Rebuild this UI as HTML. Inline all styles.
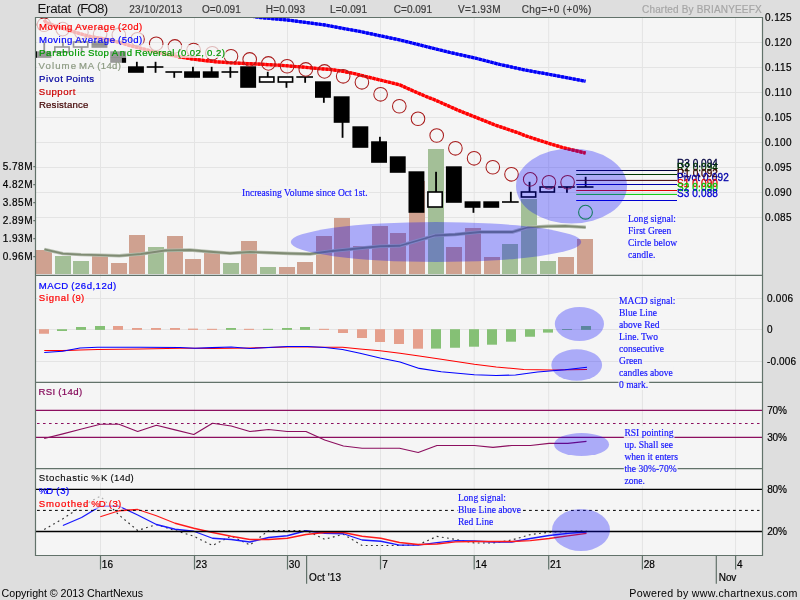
<!DOCTYPE html>
<html lang="en"><head><meta charset="utf-8"><title>Eratat (FO8) chart</title>
<style>html,body{margin:0;padding:0;background:#dedede;overflow:hidden}svg text{white-space:pre}</style></head>
<body>
<svg width="800" height="600" viewBox="0 0 800 600" style="display:block">
<rect width="800" height="600" fill="#dedede"/>
<filter id="gs" x="0" y="0" width="100%" height="100%" filterUnits="userSpaceOnUse" color-interpolation-filters="sRGB"><feOffset dx="0" dy="0"/></filter><g filter="url(#gs)">
<rect x="35.5" y="17.5" width="727.0" height="538.0" fill="#f5f5f5"/>
<defs><clipPath id="cm"><rect x="36" y="18" width="726.5" height="257"/></clipPath>
<clipPath id="inleg"><path d="M37 18.9h106.2v13h-106.2z M37 31.9h106.2v13h-106.2z M37 44.9h189.0v13h-189.0z M37 57.9h84.9v13h-84.9z M37 70.9h58.0v13h-58.0z M37 83.9h39.3v13h-39.3z M37 96.9h52.4v13h-52.4z M37 277.7h80.3v13h-80.3z M37 290.2h48.3v13h-48.3z M37 384.4h46.3v13h-46.3z M37 470.2h97.8v13h-97.8z M37 482.9h33.3v13h-33.3z M37 495.9h85.3v13h-85.3z"/></clipPath>
<clipPath id="outleg"><path clip-rule="evenodd" d="M36 18H762.5V555H36Z M37 18.9h106.2v13h-106.2z M37 31.9h106.2v13h-106.2z M37 44.9h189.0v13h-189.0z M37 57.9h84.9v13h-84.9z M37 70.9h58.0v13h-58.0z M37 83.9h39.3v13h-39.3z M37 96.9h52.4v13h-52.4z M37 277.7h80.3v13h-80.3z M37 290.2h48.3v13h-48.3z M37 384.4h46.3v13h-46.3z M37 470.2h97.8v13h-97.8z M37 482.9h33.3v13h-33.3z M37 495.9h85.3v13h-85.3z"/></clipPath></defs>
<path d="M100.5 17.5V555.5 M194.5 17.5V555.5 M287.5 17.5V555.5 M380.5 17.5V555.5 M474.2 17.5V555.5 M548.7 17.5V555.5 M642.4 17.5V555.5 M735.6 17.5V555.5 M35.5 42.5H762.5 M35.5 67.5H762.5 M35.5 92.5H762.5 M35.5 117.5H762.5 M35.5 142.5H762.5 M35.5 167.5H762.5 M35.5 192.5H762.5 M35.5 217.5H762.5 M35.5 298.5H762.5 M35.5 329.5H762.5 M35.5 361.5H762.5" stroke="#e4e4e4" stroke-width="1" fill="none"/>
<rect x="36" y="250" width="16" height="24" fill="#cfa190"/>
<rect x="55" y="256" width="16" height="18" fill="#a3bf97"/>
<rect x="73" y="261" width="16" height="13" fill="#a3bf97"/>
<rect x="92" y="256" width="16" height="18" fill="#cfa190"/>
<rect x="111" y="263" width="16" height="11" fill="#cfa190"/>
<rect x="129" y="235" width="16" height="39" fill="#cfa190"/>
<rect x="148" y="247" width="16" height="27" fill="#a3bf97"/>
<rect x="167" y="236" width="16" height="38" fill="#cfa190"/>
<rect x="185" y="259" width="16" height="15" fill="#cfa190"/>
<rect x="204" y="252" width="16" height="22" fill="#cfa190"/>
<rect x="223" y="263" width="16" height="11" fill="#a3bf97"/>
<rect x="241" y="241" width="16" height="33" fill="#cfa190"/>
<rect x="260" y="267" width="16" height="7" fill="#a3bf97"/>
<rect x="279" y="267" width="16" height="7" fill="#cfa190"/>
<rect x="297" y="262" width="16" height="12" fill="#cfa190"/>
<rect x="316" y="236" width="16" height="38" fill="#cfa190"/>
<rect x="334" y="218" width="16" height="56" fill="#cfa190"/>
<rect x="353" y="246" width="16" height="28" fill="#cfa190"/>
<rect x="372" y="226" width="16" height="48" fill="#cfa190"/>
<rect x="390" y="233" width="16" height="41" fill="#cfa190"/>
<rect x="409" y="181" width="16" height="93" fill="#cfa190"/>
<rect x="428" y="149" width="16" height="125" fill="#a3bf97"/>
<rect x="446" y="247" width="16" height="27" fill="#cfa190"/>
<rect x="465" y="228" width="16" height="46" fill="#cfa190"/>
<rect x="484" y="257" width="16" height="17" fill="#cfa190"/>
<rect x="502" y="244" width="16" height="30" fill="#a3bf97"/>
<rect x="521" y="199" width="16" height="75" fill="#a3bf97"/>
<rect x="540" y="261" width="16" height="13" fill="#a3bf97"/>
<rect x="558" y="257" width="16" height="17" fill="#cfa190"/>
<rect x="577" y="239" width="16" height="35" fill="#cfa190"/>
<path d="M44.4 249.3 L62.9 253.6 L81 254.6 L99.7 255.1 L119.2 255.8 L140.9 254 L165 250.5 L190 250 L210 251.75 L230 253.25 L250 252 L270 252.75 L290 253.5 L310 254 L330 251.25 L355 248.75 L380 246.25 L400 245.75 L418 240.5 L435 235.5 L455 234.5 L480 232 L512.5 232 L527.5 227.5 L548 226.3 L565 226 L585.7 227.3"  stroke="#b7bfb0" stroke-width="3.4" fill="none" stroke-linejoin="round"/>
<path d="M44.4 249.3 L62.9 253.6 L81 254.6 L99.7 255.1 L119.2 255.8 L140.9 254 L165 250.5 L190 250 L210 251.75 L230 253.25 L250 252 L270 252.75 L290 253.5 L310 254 L330 251.25 L355 248.75 L380 246.25 L400 245.75 L418 240.5 L435 235.5 L455 234.5 L480 232 L512.5 232 L527.5 227.5 L548 226.3 L565 226 L585.7 227.3" stroke="#7f8b73" stroke-width="1.8" fill="none" stroke-linejoin="round"/>
<rect x="43.35" y="41.8" width="1.8" height="10.2" fill="#000"/>
<rect x="35.4" y="51.3" width="15.9" height="6.5" fill="#000"/>
<rect x="62.05" y="41.8" width="1.8" height="5.2" fill="#000"/>
<rect x="54.8" y="47.0" width="14.3" height="5.0" fill="#fff" stroke="#000" stroke-width="1.6"/>
<rect x="80.75" y="47.0" width="1.8" height="5.8" fill="#000"/>
<rect x="73.5" y="42.0" width="14.3" height="5.0" fill="#fff" stroke="#000" stroke-width="1.6"/>
<rect x="91.5" y="41.3" width="15.9" height="6.5" fill="#000"/>
<rect x="110.2" y="51.3" width="15.9" height="11.5" fill="#000"/>
<rect x="135.95" y="61.8" width="1.8" height="5.2" fill="#000"/>
<rect x="128.0" y="66.3" width="15.9" height="6.5" fill="#000"/>
<rect x="154.65" y="61.8" width="1.8" height="5.2" fill="#000"/>
<rect x="154.65" y="67.0" width="1.8" height="5.8" fill="#000"/>
<rect x="146.7" y="66.2" width="16.7" height="1.6" fill="#000"/>
<rect x="173.35" y="72.0" width="1.8" height="5.8" fill="#000"/>
<rect x="165.4" y="71.2" width="16.7" height="1.6" fill="#000"/>
<rect x="192.05" y="66.8" width="1.8" height="5.2" fill="#000"/>
<rect x="184.1" y="71.3" width="15.9" height="6.5" fill="#000"/>
<rect x="210.75" y="66.8" width="1.8" height="5.2" fill="#000"/>
<rect x="202.8" y="71.3" width="15.9" height="6.5" fill="#000"/>
<rect x="229.45" y="66.8" width="1.8" height="5.2" fill="#000"/>
<rect x="229.45" y="72.0" width="1.8" height="5.8" fill="#000"/>
<rect x="221.5" y="71.2" width="16.7" height="1.6" fill="#000"/>
<rect x="240.2" y="66.3" width="15.9" height="21.5" fill="#000"/>
<rect x="266.85" y="71.8" width="1.8" height="5.2" fill="#000"/>
<rect x="259.6" y="77.0" width="14.3" height="5.0" fill="#fff" stroke="#000" stroke-width="1.6"/>
<rect x="285.55" y="82.0" width="1.8" height="5.8" fill="#000"/>
<rect x="278.3" y="77.0" width="14.3" height="5.0" fill="#fff" stroke="#000" stroke-width="1.6"/>
<rect x="304.25" y="77.0" width="1.8" height="5.8" fill="#000"/>
<rect x="296.3" y="76.2" width="16.7" height="1.6" fill="#000"/>
<rect x="322.95" y="97.0" width="1.8" height="5.8" fill="#000"/>
<rect x="315.0" y="81.3" width="15.9" height="16.5" fill="#000"/>
<rect x="341.65" y="122.0" width="1.8" height="15.8" fill="#000"/>
<rect x="333.7" y="96.3" width="15.9" height="26.5" fill="#000"/>
<rect x="352.4" y="126.3" width="15.9" height="21.5" fill="#000"/>
<rect x="379.05" y="136.8" width="1.8" height="5.2" fill="#000"/>
<rect x="371.1" y="141.3" width="15.9" height="21.5" fill="#000"/>
<rect x="389.8" y="156.3" width="15.9" height="16.5" fill="#000"/>
<rect x="408.5" y="171.3" width="15.9" height="41.5" fill="#000"/>
<rect x="435.15" y="171.8" width="1.8" height="20.2" fill="#000"/>
<rect x="427.9" y="192.0" width="14.3" height="15.0" fill="#fff" stroke="#000" stroke-width="1.6"/>
<rect x="445.9" y="166.3" width="15.9" height="36.5" fill="#000"/>
<rect x="472.55" y="207.0" width="1.8" height="5.8" fill="#000"/>
<rect x="464.6" y="201.3" width="15.9" height="6.5" fill="#000"/>
<rect x="483.3" y="201.3" width="15.9" height="6.5" fill="#000"/>
<rect x="509.95" y="191.8" width="1.8" height="10.2" fill="#000"/>
<rect x="502.0" y="201.2" width="16.7" height="1.6" fill="#000"/>
<rect x="528.65" y="181.8" width="1.8" height="10.2" fill="#000"/>
<rect x="521.4" y="192.0" width="14.3" height="5.0" fill="#fff" stroke="#000" stroke-width="1.6"/>
<rect x="540.1" y="187.0" width="14.3" height="5.0" fill="#fff" stroke="#000" stroke-width="1.6"/>
<rect x="566.05" y="187.0" width="1.8" height="5.8" fill="#000"/>
<rect x="558.1" y="186.2" width="16.7" height="1.6" fill="#000"/>
<rect x="584.75" y="176.8" width="1.8" height="10.2" fill="#000"/>
<rect x="576.8" y="186.2" width="16.7" height="1.6" fill="#000"/>
<rect x="37" y="18.9" width="106.2" height="13" fill="#f5f5f5" fill-opacity="0.62"/>
<rect x="37" y="31.9" width="106.2" height="13" fill="#f5f5f5" fill-opacity="0.62"/>
<rect x="37" y="44.9" width="189.0" height="13" fill="#f5f5f5" fill-opacity="0.62"/>
<rect x="37" y="57.9" width="84.9" height="13" fill="#f5f5f5" fill-opacity="0.62"/>
<rect x="37" y="70.9" width="58.0" height="13" fill="#f5f5f5" fill-opacity="0.62"/>
<rect x="37" y="83.9" width="39.3" height="13" fill="#f5f5f5" fill-opacity="0.62"/>
<rect x="37" y="96.9" width="52.4" height="13" fill="#f5f5f5" fill-opacity="0.62"/>
<g clip-path="url(#cm)"><g clip-path="url(#outleg)"><path d="M44.2 19.8 L46 22.6 L60 27.5 L75.25 32.25 L87.75 36 L109 39.75 L120 42.6 L130 45.6 L142.5 48.75 L155 51.9 L167.5 54.4 L180 56.9 L192.5 59 L205 60.6 L217.5 61.9 L230 62.800000000000004 L242.5 63.4 L255 63.9 L267.5 64.6 L280 65.25 L292.5 66.25 L305 67.25 L317.5 68.5 L330 69.4 L342.5 71.25 L355 73.75 L367.5 76.9 L380 80 L392.5 83.1 L400 85 L405 87.25 L417.5 92.8 L430 98.1 L432.5 98.9 L445 104.4 L457.5 110 L470 115 L482.5 120 L495 125 L507.5 129.2 L520 133.5 L525 135.6 L537.5 139.75 L550 143.75 L562.5 147.5 L575 150.6 L585.6 153.1" stroke="#ff3a3a" stroke-width="3.1" fill="none" stroke-linejoin="round"/>
<path d="M44.2 19.8 L46 22.6 L60 27.5 L75.25 32.25 L87.75 36 L109 39.75 L120 42.6 L130 45.6 L142.5 48.75 L155 51.9 L167.5 54.4 L180 56.9 L192.5 59 L205 60.6 L217.5 61.9 L230 62.800000000000004 L242.5 63.4 L255 63.9 L267.5 64.6 L280 65.25 L292.5 66.25 L305 67.25 L317.5 68.5 L330 69.4 L342.5 71.25 L355 73.75 L367.5 76.9 L380 80 L392.5 83.1 L400 85 L405 87.25 L417.5 92.8 L430 98.1 L432.5 98.9 L445 104.4 L457.5 110 L470 115 L482.5 120 L495 125 L507.5 129.2 L520 133.5 L525 135.6 L537.5 139.75 L550 143.75 L562.5 147.5 L575 150.6 L585.6 153.1" stroke="#ff0000" stroke-width="3.3" fill="none" stroke-linejoin="round" stroke-dasharray="2.8 1.2"/>
<path d="M200 8 L260 17.5 L287.5 20 L325 25 L362.5 32 L400 40 L425 46.25 L450 52.5 L475 58 L500 64.5 L525 70 L550 74.5 L585.5 81.25" stroke="#3a3aff" stroke-width="3.1" fill="none" stroke-linejoin="round"/>
<path d="M200 8 L260 17.5 L287.5 20 L325 25 L362.5 32 L400 40 L425 46.25 L450 52.5 L475 58 L500 64.5 L525 70 L550 74.5 L585.5 81.25" stroke="#0000f5" stroke-width="3.3" fill="none" stroke-linejoin="round" stroke-dasharray="2.8 1.2"/>
<circle cx="44.0" cy="24.75" r="6.8" fill="none" stroke="#a81c1c" stroke-width="1.05"/>
<circle cx="62.7" cy="29.1" r="6.8" fill="none" stroke="#a81c1c" stroke-width="1.05"/>
<circle cx="81.4" cy="32.25" r="6.8" fill="none" stroke="#a81c1c" stroke-width="1.05"/>
<circle cx="100.1" cy="34.1" r="6.8" fill="none" stroke="#a81c1c" stroke-width="1.05"/>
<circle cx="118.8" cy="34.9" r="6.8" fill="none" stroke="#a81c1c" stroke-width="1.05"/>
<circle cx="137.5" cy="39.3" r="6.8" fill="none" stroke="#a81c1c" stroke-width="1.05"/>
<circle cx="156.2" cy="43.7" r="6.8" fill="none" stroke="#a81c1c" stroke-width="1.05"/>
<circle cx="174.9" cy="46.4" r="6.8" fill="none" stroke="#a81c1c" stroke-width="1.05"/>
<circle cx="193.6" cy="50" r="6.8" fill="none" stroke="#a81c1c" stroke-width="1.05"/>
<circle cx="212.3" cy="53.3" r="6.8" fill="none" stroke="#a81c1c" stroke-width="1.05"/>
<circle cx="231.0" cy="56.25" r="6.8" fill="none" stroke="#a81c1c" stroke-width="1.05"/>
<circle cx="249.7" cy="59.4" r="6.8" fill="none" stroke="#a81c1c" stroke-width="1.05"/>
<circle cx="268.4" cy="63.4" r="6.8" fill="none" stroke="#a81c1c" stroke-width="1.05"/>
<circle cx="287.1" cy="66.25" r="6.8" fill="none" stroke="#a81c1c" stroke-width="1.05"/>
<circle cx="305.8" cy="69.4" r="6.8" fill="none" stroke="#a81c1c" stroke-width="1.05"/>
<circle cx="324.5" cy="71.4" r="6.8" fill="none" stroke="#a81c1c" stroke-width="1.05"/>
<circle cx="343.2" cy="76.3" r="6.8" fill="none" stroke="#a81c1c" stroke-width="1.05"/>
<circle cx="361.9" cy="82.3" r="6.8" fill="none" stroke="#a81c1c" stroke-width="1.05"/>
<circle cx="380.6" cy="94.3" r="6.8" fill="none" stroke="#a81c1c" stroke-width="1.05"/>
<circle cx="399.3" cy="106.25" r="6.8" fill="none" stroke="#a81c1c" stroke-width="1.05"/>
<circle cx="418.0" cy="118.75" r="6.8" fill="none" stroke="#a81c1c" stroke-width="1.05"/>
<circle cx="436.7" cy="135.5" r="6.8" fill="none" stroke="#a81c1c" stroke-width="1.05"/>
<circle cx="455.4" cy="148.3" r="6.8" fill="none" stroke="#a81c1c" stroke-width="1.05"/>
<circle cx="474.1" cy="158.3" r="6.8" fill="none" stroke="#a81c1c" stroke-width="1.05"/>
<circle cx="492.8" cy="167.2" r="6.8" fill="none" stroke="#a81c1c" stroke-width="1.05"/>
<circle cx="511.5" cy="174.3" r="6.8" fill="none" stroke="#a81c1c" stroke-width="1.05"/>
<circle cx="530.2" cy="179.4" r="6.8" fill="none" stroke="#a81c1c" stroke-width="1.05"/>
<circle cx="548.9" cy="182.2" r="6.8" fill="none" stroke="#a81c1c" stroke-width="1.05"/>
<circle cx="567.6" cy="182.2" r="6.8" fill="none" stroke="#a81c1c" stroke-width="1.05"/>
<circle cx="585.5" cy="212.2" r="6.9" fill="none" stroke="#1cb01c" stroke-width="1.1"/></g>
<g clip-path="url(#inleg)" opacity="0.27"><path d="M44.2 19.8 L46 22.6 L60 27.5 L75.25 32.25 L87.75 36 L109 39.75 L120 42.6 L130 45.6 L142.5 48.75 L155 51.9 L167.5 54.4 L180 56.9 L192.5 59 L205 60.6 L217.5 61.9 L230 62.800000000000004 L242.5 63.4 L255 63.9 L267.5 64.6 L280 65.25 L292.5 66.25 L305 67.25 L317.5 68.5 L330 69.4 L342.5 71.25 L355 73.75 L367.5 76.9 L380 80 L392.5 83.1 L400 85 L405 87.25 L417.5 92.8 L430 98.1 L432.5 98.9 L445 104.4 L457.5 110 L470 115 L482.5 120 L495 125 L507.5 129.2 L520 133.5 L525 135.6 L537.5 139.75 L550 143.75 L562.5 147.5 L575 150.6 L585.6 153.1" stroke="#ff3a3a" stroke-width="3.1" fill="none" stroke-linejoin="round"/>
<path d="M44.2 19.8 L46 22.6 L60 27.5 L75.25 32.25 L87.75 36 L109 39.75 L120 42.6 L130 45.6 L142.5 48.75 L155 51.9 L167.5 54.4 L180 56.9 L192.5 59 L205 60.6 L217.5 61.9 L230 62.800000000000004 L242.5 63.4 L255 63.9 L267.5 64.6 L280 65.25 L292.5 66.25 L305 67.25 L317.5 68.5 L330 69.4 L342.5 71.25 L355 73.75 L367.5 76.9 L380 80 L392.5 83.1 L400 85 L405 87.25 L417.5 92.8 L430 98.1 L432.5 98.9 L445 104.4 L457.5 110 L470 115 L482.5 120 L495 125 L507.5 129.2 L520 133.5 L525 135.6 L537.5 139.75 L550 143.75 L562.5 147.5 L575 150.6 L585.6 153.1" stroke="#ff0000" stroke-width="3.3" fill="none" stroke-linejoin="round" stroke-dasharray="2.8 1.2"/>
<path d="M200 8 L260 17.5 L287.5 20 L325 25 L362.5 32 L400 40 L425 46.25 L450 52.5 L475 58 L500 64.5 L525 70 L550 74.5 L585.5 81.25" stroke="#3a3aff" stroke-width="3.1" fill="none" stroke-linejoin="round"/>
<path d="M200 8 L260 17.5 L287.5 20 L325 25 L362.5 32 L400 40 L425 46.25 L450 52.5 L475 58 L500 64.5 L525 70 L550 74.5 L585.5 81.25" stroke="#0000f5" stroke-width="3.3" fill="none" stroke-linejoin="round" stroke-dasharray="2.8 1.2"/>
<circle cx="44.0" cy="24.75" r="6.8" fill="none" stroke="#a81c1c" stroke-width="1.05"/>
<circle cx="62.7" cy="29.1" r="6.8" fill="none" stroke="#a81c1c" stroke-width="1.05"/>
<circle cx="81.4" cy="32.25" r="6.8" fill="none" stroke="#a81c1c" stroke-width="1.05"/>
<circle cx="100.1" cy="34.1" r="6.8" fill="none" stroke="#a81c1c" stroke-width="1.05"/>
<circle cx="118.8" cy="34.9" r="6.8" fill="none" stroke="#a81c1c" stroke-width="1.05"/>
<circle cx="137.5" cy="39.3" r="6.8" fill="none" stroke="#a81c1c" stroke-width="1.05"/>
<circle cx="156.2" cy="43.7" r="6.8" fill="none" stroke="#a81c1c" stroke-width="1.05"/>
<circle cx="174.9" cy="46.4" r="6.8" fill="none" stroke="#a81c1c" stroke-width="1.05"/>
<circle cx="193.6" cy="50" r="6.8" fill="none" stroke="#a81c1c" stroke-width="1.05"/>
<circle cx="212.3" cy="53.3" r="6.8" fill="none" stroke="#a81c1c" stroke-width="1.05"/>
<circle cx="231.0" cy="56.25" r="6.8" fill="none" stroke="#a81c1c" stroke-width="1.05"/>
<circle cx="249.7" cy="59.4" r="6.8" fill="none" stroke="#a81c1c" stroke-width="1.05"/>
<circle cx="268.4" cy="63.4" r="6.8" fill="none" stroke="#a81c1c" stroke-width="1.05"/>
<circle cx="287.1" cy="66.25" r="6.8" fill="none" stroke="#a81c1c" stroke-width="1.05"/>
<circle cx="305.8" cy="69.4" r="6.8" fill="none" stroke="#a81c1c" stroke-width="1.05"/>
<circle cx="324.5" cy="71.4" r="6.8" fill="none" stroke="#a81c1c" stroke-width="1.05"/>
<circle cx="343.2" cy="76.3" r="6.8" fill="none" stroke="#a81c1c" stroke-width="1.05"/>
<circle cx="361.9" cy="82.3" r="6.8" fill="none" stroke="#a81c1c" stroke-width="1.05"/>
<circle cx="380.6" cy="94.3" r="6.8" fill="none" stroke="#a81c1c" stroke-width="1.05"/>
<circle cx="399.3" cy="106.25" r="6.8" fill="none" stroke="#a81c1c" stroke-width="1.05"/>
<circle cx="418.0" cy="118.75" r="6.8" fill="none" stroke="#a81c1c" stroke-width="1.05"/>
<circle cx="436.7" cy="135.5" r="6.8" fill="none" stroke="#a81c1c" stroke-width="1.05"/>
<circle cx="455.4" cy="148.3" r="6.8" fill="none" stroke="#a81c1c" stroke-width="1.05"/>
<circle cx="474.1" cy="158.3" r="6.8" fill="none" stroke="#a81c1c" stroke-width="1.05"/>
<circle cx="492.8" cy="167.2" r="6.8" fill="none" stroke="#a81c1c" stroke-width="1.05"/>
<circle cx="511.5" cy="174.3" r="6.8" fill="none" stroke="#a81c1c" stroke-width="1.05"/>
<circle cx="530.2" cy="179.4" r="6.8" fill="none" stroke="#a81c1c" stroke-width="1.05"/>
<circle cx="548.9" cy="182.2" r="6.8" fill="none" stroke="#a81c1c" stroke-width="1.05"/>
<circle cx="567.6" cy="182.2" r="6.8" fill="none" stroke="#a81c1c" stroke-width="1.05"/>
<circle cx="585.5" cy="212.2" r="6.9" fill="none" stroke="#1cb01c" stroke-width="1.1"/></g></g>
<path d="M576.2 170.5H677" stroke="#000040" stroke-width="1"/>
<path d="M576.2 174.5H677" stroke="#003800" stroke-width="1"/>
<path d="M576.2 180.4H677" stroke="#400000" stroke-width="1"/>
<path d="M576.2 184.5H677" stroke="#0000a8" stroke-width="1"/>
<path d="M576.2 190.5H677" stroke="#dd0000" stroke-width="1"/>
<path d="M576.2 194.4H677" stroke="#00c800" stroke-width="1"/>
<path d="M576.2 200.5H677" stroke="#0000d0" stroke-width="1"/>
<text x="676.9" y="167.1" font-size="10" fill="#000040" font-family="Liberation Sans, Arial, sans-serif" textLength="41" lengthAdjust="spacing" stroke="#000040" stroke-width="0.3">R3 0.094</text>
<text x="676.9" y="171.1" font-size="10" fill="#003800" font-family="Liberation Sans, Arial, sans-serif" textLength="41" lengthAdjust="spacing" stroke="#003800" stroke-width="0.3">R2 0.094</text>
<text x="676.9" y="177.0" font-size="10" fill="#400000" font-family="Liberation Sans, Arial, sans-serif" textLength="41" lengthAdjust="spacing" stroke="#400000" stroke-width="0.3">R1 0.092</text>
<text x="676.9" y="181.1" font-size="10" fill="#0000a8" font-family="Liberation Sans, Arial, sans-serif" textLength="52" lengthAdjust="spacing" stroke="#0000a8" stroke-width="0.3">Pivot 0.092</text>
<text x="676.9" y="187.1" font-size="10" fill="#dd0000" font-family="Liberation Sans, Arial, sans-serif" textLength="41" lengthAdjust="spacing" stroke="#dd0000" stroke-width="0.3">S1 0.090</text>
<text x="676.9" y="191.0" font-size="10" fill="#00c800" font-family="Liberation Sans, Arial, sans-serif" textLength="41" lengthAdjust="spacing" stroke="#00c800" stroke-width="0.3">S2 0.090</text>
<text x="676.9" y="197.1" font-size="10" fill="#0000d0" font-family="Liberation Sans, Arial, sans-serif" textLength="41" lengthAdjust="spacing" stroke="#0000d0" stroke-width="0.3">S3 0.088</text>
<rect x="39" y="329.20" width="10" height="4.55" fill="#e59f8c"/>
<rect x="57" y="329.20" width="10" height="1.80" fill="#85c075"/>
<rect x="76" y="327.00" width="10" height="2.90" fill="#85c075"/>
<rect x="95" y="326.00" width="10" height="3.90" fill="#85c075"/>
<rect x="113" y="326.00" width="10" height="3.90" fill="#e59f8c"/>
<rect x="132" y="328.00" width="10" height="1.90" fill="#e59f8c"/>
<rect x="151" y="328.00" width="10" height="1.90" fill="#e59f8c"/>
<rect x="170" y="328.00" width="10" height="1.90" fill="#e59f8c"/>
<rect x="188" y="328.60" width="10" height="1.30" fill="#e59f8c"/>
<rect x="207" y="328.80" width="10" height="1.10" fill="#e59f8c"/>
<rect x="226" y="328.00" width="10" height="1.90" fill="#85c075"/>
<rect x="244" y="328.80" width="10" height="1.10" fill="#e59f8c"/>
<rect x="263" y="328.80" width="10" height="1.10" fill="#85c075"/>
<rect x="282" y="328.00" width="10" height="1.90" fill="#85c075"/>
<rect x="300" y="327.00" width="10" height="2.90" fill="#85c075"/>
<rect x="319" y="328.80" width="10" height="1.10" fill="#e59f8c"/>
<rect x="338" y="329.20" width="10" height="3.80" fill="#e59f8c"/>
<rect x="357" y="329.20" width="10" height="8.80" fill="#e59f8c"/>
<rect x="375" y="329.20" width="10" height="12.80" fill="#e59f8c"/>
<rect x="394" y="329.20" width="10" height="14.80" fill="#e59f8c"/>
<rect x="413" y="329.20" width="10" height="19.50" fill="#e59f8c"/>
<rect x="431" y="329.20" width="10" height="19.40" fill="#85c075"/>
<rect x="450" y="329.20" width="10" height="18.55" fill="#85c075"/>
<rect x="469" y="329.20" width="10" height="17.50" fill="#85c075"/>
<rect x="487" y="329.20" width="10" height="15.50" fill="#85c075"/>
<rect x="506" y="329.20" width="10" height="12.50" fill="#85c075"/>
<rect x="525" y="329.20" width="10" height="7.55" fill="#85c075"/>
<rect x="543" y="329.20" width="10" height="3.40" fill="#85c075"/>
<rect x="562" y="329.00" width="10" height="0.90" fill="#85c075"/>
<rect x="581" y="326.00" width="10" height="3.90" fill="#85c075"/>
<path d="M44.25 350.5 L62.5 350.6 L80 350 L97.5 349.5 L140 349 L180 348.25 L195 348.25 L212 348.4 L231.25 348.3 L250 348 L287.5 347 L307.5 347 L325 347.25 L342.5 347.25 L360 349 L380 350.75 L400 353.25 L419.25 356 L441.25 359.3 L474.25 364.25 L496.25 367 L523.75 369.5 L551.25 370 L587 369.5" stroke="#ff0000" stroke-width="1.1" fill="none" stroke-linejoin="round"/>
<path d="M44.25 352.5 L62.5 351.25 L80 348 L97.5 347.25 L140 347.2 L180 347.5 L195 348.25 L212 347.6 L231.25 347 L250 348.5 L287.5 346.5 L307.5 346.5 L325 347.5 L342.5 349.5 L360 353.25 L380 358 L400 362 L419.25 368.4 L441.25 371.7 L474.25 374.7 L496.25 375.5 L515.5 375 L537.5 372 L565 369.75 L587 367.3" stroke="#0000ff" stroke-width="1.1" fill="none" stroke-linejoin="round"/>
<path d="M35.5 410.4H762.5M35.5 437.4H762.5" stroke="#8c0f5f" stroke-width="1.15"/>
<path d="M37.0 423.5H759.5" stroke="#8c0f5f" stroke-width="1" stroke-dasharray="2.6 3.4"/>
<path d="M44.2 438.5 L62.9 433.8 L81.6 429 L100.3 424.25 L119.0 424.25 L137.7 431.5 L156.4 425.25 L175.1 429.8 L193.8 434.5 L212.5 423.25 L231.2 426 L249.9 431.5 L268.6 429.5 L287.3 431.5 L306.0 431.5 L324.7 440 L343.4 446 L362.1 448.25 L380.8 448.25 L399.5 448.25 L418.2 452.5 L436.9 445.5 L455.6 445.5 L474.3 445.5 L493.0 447.3 L511.7 445.5 L530.4 445.5 L549.1 443.4 L567.8 443.4 L586.5 441.3" stroke="#8c0f5f" stroke-width="1.2" fill="none" stroke-linejoin="round"/>
<path d="M44.2 529.5 L62.9 518.75 L81.6 506.25 L100.3 496.25 L119.0 515 L137.7 530.5 L156.4 524.5 L175.1 530.5 L193.8 536.25 L212.5 545.5 L231.2 536 L249.9 545 L268.6 530.5 L287.3 530.5 L306.0 530.5 L324.7 539.25 L343.4 534.25 L362.1 545.5 L380.8 545.5 L399.5 545.5 L418.2 544.8 L436.9 536.4 L455.6 539.4 L474.3 543 L493.0 543 L511.7 540 L530.4 534.6 L549.1 532.2 L567.8 531.6 L586.5 531" stroke="#333" stroke-width="1.15" fill="none" stroke-dasharray="1.8 3.4"/>
<path d="M62.9 525.5 L81.6 517.5 L100.3 506.25 L119.0 506.25 L137.7 515 L156.4 524.5 L175.1 529.25 L193.8 531.25 L212.5 538.25 L231.2 539.5 L249.9 542 L268.6 537.5 L287.3 535.75 L306.0 530.75 L324.7 533.25 L343.4 533.75 L362.1 540 L380.8 541.25 L399.5 545.2 L418.2 545.2 L436.9 542.7 L455.6 540.6 L474.3 541 L493.0 542 L511.7 542 L530.4 538.5 L549.1 535.5 L567.8 533.4 L586.5 532" stroke="#1a1aff" stroke-width="1.3" fill="none" stroke-linejoin="round"/>
<path d="M100.3 516.75 L119.0 510.75 L137.7 509.5 L156.4 515.75 L175.1 523.25 L193.8 528.25 L212.5 532.5 L231.2 536.25 L249.9 539.5 L268.6 539.5 L287.3 538.25 L306.0 534.5 L324.7 532.5 L343.4 532.5 L362.1 536.25 L380.8 538.25 L399.5 542.5 L418.2 544.5 L436.9 544 L455.6 541.8 L474.3 541.5 L493.0 541.5 L511.7 541.5 L530.4 540.6 L549.1 538.5 L567.8 535.8 L586.5 533.4" stroke="#ff1a1a" stroke-width="1.3" fill="none" stroke-linejoin="round"/>
<rect x="37" y="277.7" width="80.3" height="13" fill="#f5f5f5" fill-opacity="0.62"/>
<rect x="37" y="290.2" width="48.3" height="13" fill="#f5f5f5" fill-opacity="0.62"/>
<rect x="37" y="384.4" width="46.3" height="13" fill="#f5f5f5" fill-opacity="0.62"/>
<rect x="37" y="470.2" width="97.8" height="13" fill="#f5f5f5" fill-opacity="0.62"/>
<rect x="37" y="482.9" width="33.3" height="13" fill="#f5f5f5" fill-opacity="0.62"/>
<rect x="37" y="495.9" width="85.3" height="13" fill="#f5f5f5" fill-opacity="0.62"/>
<path d="M35.5 489.4H762.5M35.5 531.5H762.5" stroke="#000" stroke-width="1.3"/>
<path d="M37.0 510.4H759.5" stroke="#000" stroke-width="1" stroke-dasharray="2.8 3.2"/>
<text x="38.9" y="29.8" font-size="9.6" fill="#ff0000" font-family="Liberation Sans, Arial, sans-serif" textLength="33.4" lengthAdjust="spacing" stroke="#ff0000" stroke-width="0.2">Moving</text>
<text x="75.3" y="29.8" font-size="9.6" fill="#ff0000" font-family="Liberation Sans, Arial, sans-serif" textLength="39.8" lengthAdjust="spacing" stroke="#ff0000" stroke-width="0.2">Average</text>
<text x="118.1" y="29.8" font-size="9.6" fill="#ff0000" font-family="Liberation Sans, Arial, sans-serif" textLength="24.1" lengthAdjust="spacing" stroke="#ff0000" stroke-width="0.2">(20d)</text>
<text x="38.9" y="42.8" font-size="9.6" fill="#0000ff" font-family="Liberation Sans, Arial, sans-serif" textLength="33.4" lengthAdjust="spacing" stroke="#0000ff" stroke-width="0.2">Moving</text>
<text x="75.3" y="42.8" font-size="9.6" fill="#0000ff" font-family="Liberation Sans, Arial, sans-serif" textLength="39.8" lengthAdjust="spacing" stroke="#0000ff" stroke-width="0.2">Average</text>
<text x="118.1" y="42.8" font-size="9.6" fill="#0000ff" font-family="Liberation Sans, Arial, sans-serif" textLength="24.1" lengthAdjust="spacing" stroke="#0000ff" stroke-width="0.2">(50d)</text>
<text x="38.9" y="55.8" font-size="9.6" fill="#009a00" font-family="Liberation Sans, Arial, sans-serif" textLength="46.2" lengthAdjust="spacing" stroke="#009a00" stroke-width="0.2">Parabolic</text>
<text x="88.1" y="55.8" font-size="9.6" fill="#009a00" font-family="Liberation Sans, Arial, sans-serif" textLength="20.7" lengthAdjust="spacing" stroke="#009a00" stroke-width="0.2">Stop</text>
<text x="111.8" y="55.8" font-size="9.6" fill="#009a00" font-family="Liberation Sans, Arial, sans-serif" textLength="20.2" lengthAdjust="spacing" stroke="#009a00" stroke-width="0.2">And</text>
<text x="135" y="55.8" font-size="9.6" fill="#009a00" font-family="Liberation Sans, Arial, sans-serif" textLength="39.5" lengthAdjust="spacing" stroke="#009a00" stroke-width="0.2">Reversal</text>
<text x="177.5" y="55.8" font-size="9.6" fill="#009a00" font-family="Liberation Sans, Arial, sans-serif" textLength="26.4" lengthAdjust="spacing" stroke="#009a00" stroke-width="0.2">(0.02,</text>
<text x="206.9" y="55.8" font-size="9.6" fill="#009a00" font-family="Liberation Sans, Arial, sans-serif" textLength="18.1" lengthAdjust="spacing" stroke="#009a00" stroke-width="0.2">0.2)</text>
<text x="38.6" y="68.8" font-size="9.6" fill="#8c9a82" font-family="Liberation Sans, Arial, sans-serif" textLength="37.4" lengthAdjust="spacing" stroke="#8c9a82" stroke-width="0.2">Volume</text>
<text x="79" y="68.8" font-size="9.6" fill="#8c9a82" font-family="Liberation Sans, Arial, sans-serif" textLength="15.2" lengthAdjust="spacing" stroke="#8c9a82" stroke-width="0.2">MA</text>
<text x="97.2" y="68.8" font-size="9.6" fill="#8c9a82" font-family="Liberation Sans, Arial, sans-serif" textLength="23.7" lengthAdjust="spacing" stroke="#8c9a82" stroke-width="0.2">(14d)</text>
<text x="38.9" y="81.8" font-size="9.6" fill="#0000a0" font-family="Liberation Sans, Arial, sans-serif" textLength="24.0" lengthAdjust="spacing" stroke="#0000a0" stroke-width="0.2">Pivot</text>
<text x="65.9" y="81.8" font-size="9.6" fill="#0000a0" font-family="Liberation Sans, Arial, sans-serif" textLength="28.1" lengthAdjust="spacing" stroke="#0000a0" stroke-width="0.2">Points</text>
<text x="38.8" y="94.8" font-size="9.6" fill="#cc0000" font-family="Liberation Sans, Arial, sans-serif" textLength="36.5" lengthAdjust="spacing" stroke="#cc0000" stroke-width="0.2">Support</text>
<text x="38.9" y="107.8" font-size="9.6" fill="#400000" font-family="Liberation Sans, Arial, sans-serif" textLength="49.5" lengthAdjust="spacing" stroke="#400000" stroke-width="0.2">Resistance</text>
<text x="38.8" y="288.6" font-size="9.6" fill="#0000ff" font-family="Liberation Sans, Arial, sans-serif" textLength="29.5" lengthAdjust="spacing" stroke="#0000ff" stroke-width="0.2">MACD</text>
<text x="71.3" y="288.6" font-size="9.6" fill="#0000ff" font-family="Liberation Sans, Arial, sans-serif" textLength="45.0" lengthAdjust="spacing" stroke="#0000ff" stroke-width="0.2">(26d,12d)</text>
<text x="38.8" y="301.1" font-size="9.6" fill="#ff0000" font-family="Liberation Sans, Arial, sans-serif" textLength="30.2" lengthAdjust="spacing" stroke="#ff0000" stroke-width="0.2">Signal</text>
<text x="72" y="301.1" font-size="9.6" fill="#ff0000" font-family="Liberation Sans, Arial, sans-serif" textLength="12.3" lengthAdjust="spacing" stroke="#ff0000" stroke-width="0.2">(9)</text>
<text x="38.5" y="395.3" font-size="9.6" fill="#85085a" font-family="Liberation Sans, Arial, sans-serif" textLength="16.7" lengthAdjust="spacing" stroke="#85085a" stroke-width="0.2">RSI</text>
<text x="58.2" y="395.3" font-size="9.6" fill="#85085a" font-family="Liberation Sans, Arial, sans-serif" textLength="24.1" lengthAdjust="spacing" stroke="#85085a" stroke-width="0.2">(14d)</text>
<text x="38.8" y="481.1" font-size="9.6" fill="#000000" font-family="Liberation Sans, Arial, sans-serif" textLength="49.5" lengthAdjust="spacing" stroke="#000000" stroke-width="0.08">Stochastic</text>
<text x="91.3" y="481.1" font-size="9.6" fill="#000000" font-family="Liberation Sans, Arial, sans-serif" textLength="16.2" lengthAdjust="spacing" stroke="#000000" stroke-width="0.08">%K</text>
<text x="110.5" y="481.1" font-size="9.6" fill="#000000" font-family="Liberation Sans, Arial, sans-serif" textLength="23.3" lengthAdjust="spacing" stroke="#000000" stroke-width="0.08">(14d)</text>
<text x="38.8" y="493.8" font-size="9.6" fill="#0000ff" font-family="Liberation Sans, Arial, sans-serif" textLength="14.5" lengthAdjust="spacing" stroke="#0000ff" stroke-width="0.2">%D</text>
<text x="56.3" y="493.8" font-size="9.6" fill="#0000ff" font-family="Liberation Sans, Arial, sans-serif" textLength="13.0" lengthAdjust="spacing" stroke="#0000ff" stroke-width="0.2">(3)</text>
<text x="38.8" y="506.8" font-size="9.6" fill="#ff0000" font-family="Liberation Sans, Arial, sans-serif" textLength="49.5" lengthAdjust="spacing" stroke="#ff0000" stroke-width="0.2">Smoothed</text>
<text x="91.3" y="506.8" font-size="9.6" fill="#ff0000" font-family="Liberation Sans, Arial, sans-serif" textLength="14.5" lengthAdjust="spacing" stroke="#ff0000" stroke-width="0.2">%D</text>
<text x="108.8" y="506.8" font-size="9.6" fill="#ff0000" font-family="Liberation Sans, Arial, sans-serif" textLength="12.5" lengthAdjust="spacing" stroke="#ff0000" stroke-width="0.2">(3)</text>
<ellipse cx="571.5" cy="186" rx="55.5" ry="37.6" fill="#0000ff" fill-opacity="0.3"/>
<ellipse cx="436" cy="242" rx="145.25" ry="20" fill="#0000ff" fill-opacity="0.3"/>
<ellipse cx="579.4" cy="324" rx="24.6" ry="17" fill="#0000ff" fill-opacity="0.3"/>
<ellipse cx="576.7" cy="365" rx="25.4" ry="15.8" fill="#0000ff" fill-opacity="0.3"/>
<ellipse cx="581.6" cy="444.5" rx="27.5" ry="11.5" fill="#0000ff" fill-opacity="0.3"/>
<ellipse cx="581" cy="530" rx="29" ry="21" fill="#0000ff" fill-opacity="0.3"/>
<path d="M35.5 17.5H762.5V555.5H35.5Z M35.5 275.4H762.5 M35.5 382.4H762.5 M35.5 468.6H762.5" stroke="#62726a" stroke-width="1.2" fill="none"/>
<rect x="241.4" y="186.2" width="127.2" height="12" fill="#f5f5f5" fill-opacity="0.86"/>
<text x="242" y="195.8" font-size="9.55" fill="#1414ff" font-family="Liberation Serif, Times New Roman, serif" stroke="#1414ff" stroke-width="0.16">Increasing Volume since Oct 1st.</text>
<rect x="627.4" y="212.4" width="49.6" height="12" fill="#f5f5f5" fill-opacity="0.86"/>
<rect x="627.4" y="224.4" width="44.8" height="12" fill="#f5f5f5" fill-opacity="0.86"/>
<rect x="627.4" y="236.4" width="50.7" height="12" fill="#f5f5f5" fill-opacity="0.86"/>
<rect x="627.4" y="248.4" width="28.9" height="12" fill="#f5f5f5" fill-opacity="0.86"/>
<text x="628" y="222" font-size="9.55" fill="#1414ff" font-family="Liberation Serif, Times New Roman, serif" stroke="#1414ff" stroke-width="0.16">Long signal:</text>
<text x="628" y="234" font-size="9.55" fill="#1414ff" font-family="Liberation Serif, Times New Roman, serif" stroke="#1414ff" stroke-width="0.16">First Green</text>
<text x="628" y="246" font-size="9.55" fill="#1414ff" font-family="Liberation Serif, Times New Roman, serif" stroke="#1414ff" stroke-width="0.16">Circle below</text>
<text x="628" y="258" font-size="9.55" fill="#1414ff" font-family="Liberation Serif, Times New Roman, serif" stroke="#1414ff" stroke-width="0.16">candle.</text>
<rect x="618.4" y="294.0" width="58.1" height="12" fill="#f5f5f5" fill-opacity="0.86"/>
<rect x="618.4" y="306.0" width="39.5" height="12" fill="#f5f5f5" fill-opacity="0.86"/>
<rect x="618.4" y="318.0" width="42.2" height="12" fill="#f5f5f5" fill-opacity="0.86"/>
<rect x="618.4" y="330.0" width="40.5" height="12" fill="#f5f5f5" fill-opacity="0.86"/>
<rect x="618.4" y="342.0" width="46.7" height="12" fill="#f5f5f5" fill-opacity="0.86"/>
<rect x="618.4" y="354.0" width="24.9" height="12" fill="#f5f5f5" fill-opacity="0.86"/>
<rect x="618.4" y="366.0" width="55.4" height="12" fill="#f5f5f5" fill-opacity="0.86"/>
<rect x="618.4" y="378.0" width="30.8" height="12" fill="#f5f5f5" fill-opacity="0.86"/>
<text x="619" y="303.6" font-size="9.55" fill="#1414ff" font-family="Liberation Serif, Times New Roman, serif" stroke="#1414ff" stroke-width="0.16">MACD signal:</text>
<text x="619" y="315.6" font-size="9.55" fill="#1414ff" font-family="Liberation Serif, Times New Roman, serif" stroke="#1414ff" stroke-width="0.16">Blue Line</text>
<text x="619" y="327.6" font-size="9.55" fill="#1414ff" font-family="Liberation Serif, Times New Roman, serif" stroke="#1414ff" stroke-width="0.16">above Red</text>
<text x="619" y="339.6" font-size="9.55" fill="#1414ff" font-family="Liberation Serif, Times New Roman, serif" stroke="#1414ff" stroke-width="0.16">Line. Two</text>
<text x="619" y="351.6" font-size="9.55" fill="#1414ff" font-family="Liberation Serif, Times New Roman, serif" stroke="#1414ff" stroke-width="0.16">consecutive</text>
<text x="619" y="363.6" font-size="9.55" fill="#1414ff" font-family="Liberation Serif, Times New Roman, serif" stroke="#1414ff" stroke-width="0.16">Green</text>
<text x="619" y="375.6" font-size="9.55" fill="#1414ff" font-family="Liberation Serif, Times New Roman, serif" stroke="#1414ff" stroke-width="0.16">candles above</text>
<text x="619" y="387.6" font-size="9.55" fill="#1414ff" font-family="Liberation Serif, Times New Roman, serif" stroke="#1414ff" stroke-width="0.16">0 mark.</text>
<rect x="623.8" y="426.1" width="50.7" height="12" fill="#f5f5f5" fill-opacity="0.86"/>
<rect x="623.8" y="438.1" width="50.1" height="12" fill="#f5f5f5" fill-opacity="0.86"/>
<rect x="623.8" y="450.1" width="55.2" height="12" fill="#f5f5f5" fill-opacity="0.86"/>
<rect x="623.8" y="462.1" width="53.8" height="12" fill="#f5f5f5" fill-opacity="0.86"/>
<rect x="623.8" y="474.1" width="22.0" height="12" fill="#f5f5f5" fill-opacity="0.86"/>
<text x="624.4" y="435.7" font-size="9.55" fill="#1414ff" font-family="Liberation Serif, Times New Roman, serif" stroke="#1414ff" stroke-width="0.16">RSI pointing</text>
<text x="624.4" y="447.7" font-size="9.55" fill="#1414ff" font-family="Liberation Serif, Times New Roman, serif" stroke="#1414ff" stroke-width="0.16">up. Shall see</text>
<text x="624.4" y="459.7" font-size="9.55" fill="#1414ff" font-family="Liberation Serif, Times New Roman, serif" stroke="#1414ff" stroke-width="0.16">when it enters</text>
<text x="624.4" y="471.7" font-size="9.55" fill="#1414ff" font-family="Liberation Serif, Times New Roman, serif" stroke="#1414ff" stroke-width="0.16">the 30%-70%</text>
<text x="624.4" y="483.7" font-size="9.55" fill="#1414ff" font-family="Liberation Serif, Times New Roman, serif" stroke="#1414ff" stroke-width="0.16">zone.</text>
<rect x="457.4" y="491.4" width="49.6" height="12" fill="#f5f5f5" fill-opacity="0.86"/>
<rect x="457.4" y="503.4" width="64.7" height="12" fill="#f5f5f5" fill-opacity="0.86"/>
<rect x="457.4" y="515.4" width="36.9" height="12" fill="#f5f5f5" fill-opacity="0.86"/>
<text x="458" y="501" font-size="9.55" fill="#1414ff" font-family="Liberation Serif, Times New Roman, serif" stroke="#1414ff" stroke-width="0.16">Long signal:</text>
<text x="458" y="513" font-size="9.55" fill="#1414ff" font-family="Liberation Serif, Times New Roman, serif" stroke="#1414ff" stroke-width="0.16">Blue Line above</text>
<text x="458" y="525" font-size="9.55" fill="#1414ff" font-family="Liberation Serif, Times New Roman, serif" stroke="#1414ff" stroke-width="0.16">Red Line</text>
<path d="M100.5 555.5V569.5 M194.5 555.5V569.5 M287.5 555.5V569.5 M380.5 555.5V569.5 M474.2 555.5V569.5 M548.7 555.5V569.5 M642.4 555.5V569.5 M735.6 555.5V569.5 M306.6 555.5V583.8 M716.3 555.5V583.8 M33.3 166.7H35.5 M33.3 184.7H35.5 M33.3 202.7H35.5 M33.3 220.7H35.5 M33.3 238.7H35.5 M33.3 256.7H35.5" stroke="#62726a" stroke-width="1.2" fill="none"/>
<text x="37.6" y="12.6" font-size="13.33" fill="#111" font-family="Liberation Sans, Arial, sans-serif" textLength="33.6" lengthAdjust="spacing" >Eratat</text>
<text x="76.7" y="12.6" font-size="13.33" fill="#111" font-family="Liberation Sans, Arial, sans-serif" textLength="31.4" lengthAdjust="spacing" >(FO8)</text>
<text x="129.25" y="12.6" font-size="10" fill="#3c3c3c" font-family="Liberation Sans, Arial, sans-serif" textLength="52.75" lengthAdjust="spacing"  stroke="#3c3c3c" stroke-width="0.2">23/10/2013</text>
<text x="202" y="12.6" font-size="10" fill="#3c3c3c" font-family="Liberation Sans, Arial, sans-serif" textLength="38.75" lengthAdjust="spacing"  stroke="#3c3c3c" stroke-width="0.2">O=0.091</text>
<text x="265.75" y="12.6" font-size="10" fill="#3c3c3c" font-family="Liberation Sans, Arial, sans-serif" textLength="39.25" lengthAdjust="spacing"  stroke="#3c3c3c" stroke-width="0.2">H=0.093</text>
<text x="330" y="12.6" font-size="10" fill="#3c3c3c" font-family="Liberation Sans, Arial, sans-serif" textLength="37" lengthAdjust="spacing"  stroke="#3c3c3c" stroke-width="0.2">L=0.091</text>
<text x="393.75" y="12.6" font-size="10" fill="#3c3c3c" font-family="Liberation Sans, Arial, sans-serif" textLength="38.25" lengthAdjust="spacing"  stroke="#3c3c3c" stroke-width="0.2">C=0.091</text>
<text x="458" y="12.6" font-size="10" fill="#3c3c3c" font-family="Liberation Sans, Arial, sans-serif" textLength="42.5" lengthAdjust="spacing"  stroke="#3c3c3c" stroke-width="0.2">V=1.93M</text>
<text x="521.75" y="12.6" font-size="10" fill="#3c3c3c" font-family="Liberation Sans, Arial, sans-serif" textLength="69.5" lengthAdjust="spacing"  stroke="#3c3c3c" stroke-width="0.2">Chg=+0 (+0%)</text>
<text x="642" y="12.6" font-size="10" fill="#a6a6a6" font-family="Liberation Sans, Arial, sans-serif" textLength="119.6" lengthAdjust="spacing"  stroke="#a6a6a6" stroke-width="0.2">Charted By BRIANYEEFX</text>
<text x="765" y="21.2" font-size="10" fill="#000" font-family="Liberation Sans, Arial, sans-serif" textLength="26.6" lengthAdjust="spacing"  stroke="#000" stroke-width="0.2">0.125</text>
<text x="765" y="46.2" font-size="10" fill="#000" font-family="Liberation Sans, Arial, sans-serif" textLength="26.6" lengthAdjust="spacing"  stroke="#000" stroke-width="0.2">0.120</text>
<text x="765" y="71.2" font-size="10" fill="#000" font-family="Liberation Sans, Arial, sans-serif" textLength="26.6" lengthAdjust="spacing"  stroke="#000" stroke-width="0.2">0.115</text>
<text x="765" y="96.2" font-size="10" fill="#000" font-family="Liberation Sans, Arial, sans-serif" textLength="26.6" lengthAdjust="spacing"  stroke="#000" stroke-width="0.2">0.110</text>
<text x="765" y="121.2" font-size="10" fill="#000" font-family="Liberation Sans, Arial, sans-serif" textLength="26.6" lengthAdjust="spacing"  stroke="#000" stroke-width="0.2">0.105</text>
<text x="765" y="146.2" font-size="10" fill="#000" font-family="Liberation Sans, Arial, sans-serif" textLength="26.6" lengthAdjust="spacing"  stroke="#000" stroke-width="0.2">0.100</text>
<text x="765" y="171.2" font-size="10" fill="#000" font-family="Liberation Sans, Arial, sans-serif" textLength="26.6" lengthAdjust="spacing"  stroke="#000" stroke-width="0.2">0.095</text>
<text x="765" y="196.2" font-size="10" fill="#000" font-family="Liberation Sans, Arial, sans-serif" textLength="26.6" lengthAdjust="spacing"  stroke="#000" stroke-width="0.2">0.090</text>
<text x="765" y="221.2" font-size="10" fill="#000" font-family="Liberation Sans, Arial, sans-serif" textLength="26.6" lengthAdjust="spacing"  stroke="#000" stroke-width="0.2">0.085</text>
<text x="767" y="302" font-size="10" fill="#000" font-family="Liberation Sans, Arial, sans-serif" textLength="26" lengthAdjust="spacing"  stroke="#000" stroke-width="0.2">0.006</text>
<text x="767" y="333" font-size="10" fill="#000" font-family="Liberation Sans, Arial, sans-serif"  stroke="#000" stroke-width="0.2" letter-spacing="0.25">0</text>
<text x="767" y="365" font-size="10" fill="#000" font-family="Liberation Sans, Arial, sans-serif" textLength="29" lengthAdjust="spacing"  stroke="#000" stroke-width="0.2">-0.006</text>
<text x="767.3" y="413.9" font-size="10" fill="#000" font-family="Liberation Sans, Arial, sans-serif" textLength="19.5" lengthAdjust="spacing"  stroke="#000" stroke-width="0.2">70%</text>
<text x="767.3" y="440.6" font-size="10" fill="#000" font-family="Liberation Sans, Arial, sans-serif" textLength="19.5" lengthAdjust="spacing"  stroke="#000" stroke-width="0.2">30%</text>
<text x="767.3" y="492.8" font-size="10" fill="#000" font-family="Liberation Sans, Arial, sans-serif" textLength="19.5" lengthAdjust="spacing"  stroke="#000" stroke-width="0.2">80%</text>
<text x="767.3" y="534.8" font-size="10" fill="#000" font-family="Liberation Sans, Arial, sans-serif" textLength="19.5" lengthAdjust="spacing"  stroke="#000" stroke-width="0.2">20%</text>
<text x="2.8" y="170.2" font-size="10" fill="#000" font-family="Liberation Sans, Arial, sans-serif" textLength="29.7" lengthAdjust="spacing"  stroke="#000" stroke-width="0.2">5.78M</text>
<text x="2.8" y="188.2" font-size="10" fill="#000" font-family="Liberation Sans, Arial, sans-serif" textLength="29.7" lengthAdjust="spacing"  stroke="#000" stroke-width="0.2">4.82M</text>
<text x="2.8" y="206.2" font-size="10" fill="#000" font-family="Liberation Sans, Arial, sans-serif" textLength="29.7" lengthAdjust="spacing"  stroke="#000" stroke-width="0.2">3.85M</text>
<text x="2.8" y="224.2" font-size="10" fill="#000" font-family="Liberation Sans, Arial, sans-serif" textLength="29.7" lengthAdjust="spacing"  stroke="#000" stroke-width="0.2">2.89M</text>
<text x="2.8" y="242.2" font-size="10" fill="#000" font-family="Liberation Sans, Arial, sans-serif" textLength="29.7" lengthAdjust="spacing"  stroke="#000" stroke-width="0.2">1.93M</text>
<text x="2.8" y="260.2" font-size="10" fill="#000" font-family="Liberation Sans, Arial, sans-serif" textLength="29.7" lengthAdjust="spacing"  stroke="#000" stroke-width="0.2">0.96M</text>
<text x="101.8" y="567.8" font-size="10" fill="#000" font-family="Liberation Sans, Arial, sans-serif" textLength="11.2" lengthAdjust="spacing" stroke="#000" stroke-width="0.2">16</text>
<text x="195.8" y="567.8" font-size="10" fill="#000" font-family="Liberation Sans, Arial, sans-serif" textLength="11.2" lengthAdjust="spacing" stroke="#000" stroke-width="0.2">23</text>
<text x="288.8" y="567.8" font-size="10" fill="#000" font-family="Liberation Sans, Arial, sans-serif" textLength="11.2" lengthAdjust="spacing" stroke="#000" stroke-width="0.2">30</text>
<text x="382.3" y="567.8" font-size="10" fill="#000" font-family="Liberation Sans, Arial, sans-serif" stroke="#000" stroke-width="0.2" letter-spacing="0.25">7</text>
<text x="475.5" y="567.8" font-size="10" fill="#000" font-family="Liberation Sans, Arial, sans-serif" textLength="11.2" lengthAdjust="spacing" stroke="#000" stroke-width="0.2">14</text>
<text x="550" y="567.8" font-size="10" fill="#000" font-family="Liberation Sans, Arial, sans-serif" textLength="11.2" lengthAdjust="spacing" stroke="#000" stroke-width="0.2">21</text>
<text x="643.7" y="567.8" font-size="10" fill="#000" font-family="Liberation Sans, Arial, sans-serif" textLength="11.2" lengthAdjust="spacing" stroke="#000" stroke-width="0.2">28</text>
<text x="737" y="567.8" font-size="10" fill="#000" font-family="Liberation Sans, Arial, sans-serif" stroke="#000" stroke-width="0.2" letter-spacing="0.25">4</text>
<text x="309" y="580.6" font-size="10" fill="#000" font-family="Liberation Sans, Arial, sans-serif" textLength="32" lengthAdjust="spacing" stroke="#000" stroke-width="0.2">Oct '13</text>
<text x="718.8" y="580.6" font-size="10" fill="#000" font-family="Liberation Sans, Arial, sans-serif" textLength="17.5" lengthAdjust="spacing" stroke="#000" stroke-width="0.2">Nov</text>
<text x="1.6" y="596.9" font-size="10.67" fill="#000" font-family="Liberation Sans, Arial, sans-serif" textLength="141.4" lengthAdjust="spacing" >Copyright © 2013 ChartNexus</text>
<text x="629.3" y="596.9" font-size="10.67" fill="#000" font-family="Liberation Sans, Arial, sans-serif" textLength="168.2" lengthAdjust="spacing" >Powered by www.chartnexus.com</text>
</g>
</svg>
</body></html>
